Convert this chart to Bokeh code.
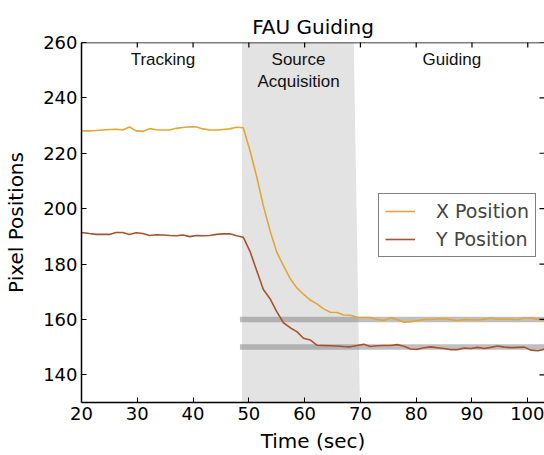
import math
from bokeh.plotting import figure
from bokeh.models import FixedTicker, Legend, LegendItem, Span
from bokeh.core.properties import value
from bokeh.embed import file_html
from bokeh.resources import INLINE

# ---- data ----
time_s = [20.0, 21.4, 22.6, 23.8, 25.0, 26.2, 27.4, 28.6, 29.8, 31.0, 32.2, 33.4, 34.6, 35.8,
          37.0, 38.2, 39.4, 40.6, 41.8, 43.0, 44.2, 45.4, 46.6, 47.8, 49.0, 50.2, 51.4, 52.6,
          53.8, 55.0, 56.2, 57.4, 58.6, 59.8, 61.0, 62.2, 63.4, 64.6, 65.8, 67.0, 68.2, 69.4,
          70.6, 71.8, 73.0, 74.2, 75.4, 76.6, 77.8, 79.0, 80.2, 81.4, 82.6, 83.8, 85.0, 86.2,
          87.4, 88.6, 89.8, 91.0, 92.2, 93.4, 94.6, 95.8, 97.0, 98.2, 99.4, 100.6, 101.8, 103.0]
x_position = [228.1, 228.1, 228.2, 228.4, 228.6, 228.7, 228.4, 229.5, 228.1, 227.9, 228.9, 228.5,
              228.4, 228.4, 229.0, 229.3, 229.6, 229.5, 228.8, 228.4, 228.4, 228.6, 228.8, 229.4,
              229.2, 221.0, 211.6, 201.0, 192.0, 184.3, 179.4, 174.8, 171.4, 169.1, 167.0, 165.6,
              163.8, 162.6, 162.5, 161.6, 161.5, 160.8, 160.7, 160.7, 160.0, 159.6, 160.6, 160.0,
              159.0, 159.2, 159.5, 160.0, 160.0, 160.2, 160.3, 160.0, 159.5, 160.0, 159.9, 159.8,
              160.1, 160.4, 160.1, 160.1, 160.1, 159.9, 160.5, 160.5, 160.1, 159.7]
y_position = [191.4, 191.0, 190.7, 190.7, 190.7, 191.4, 191.4, 190.7, 191.3, 191.0, 190.3, 190.6,
              190.5, 190.3, 190.2, 190.5, 189.9, 190.3, 190.2, 190.3, 190.7, 190.9, 190.9, 190.2,
              189.7, 184.6, 177.7, 170.8, 167.5, 162.8, 158.8, 157.0, 155.6, 153.2, 152.6, 150.7,
              150.6, 150.5, 150.4, 150.2, 150.1, 150.6, 151.0, 150.2, 150.5, 150.6, 150.6, 150.9,
              150.3, 149.3, 149.2, 149.8, 150.1, 149.8, 149.5, 149.1, 149.1, 149.7, 149.5, 149.9,
              149.5, 149.9, 150.4, 150.0, 149.8, 149.9, 150.0, 148.9, 148.7, 149.2]

acq_region_x = [48.75, 48.75, 68.8, 69.9]
acq_region_y = [130, 260, 260, 130]

target_levels = [160, 150]
target_start = [48.4, 48.4]
target_end = [104.0, 104.0]

phase_labels = ["Tracking", "Source", "Acquisition", "Guiding"]
phase_x = [34.6, 58.9, 58.9, 86.4]
phase_y = [253.8, 253.8, 246.0, 253.8]

x_ticks = [20, 30, 40, 50, 60, 70, 80, 90, 100]
y_ticks = [140, 160, 180, 200, 220, 240, 260]
x_lim = (20, 103.0)
y_lim = (130, 260)

X_COLOR = "#E3A636"
Y_COLOR = "#A8532F"
TICK_FONT = "DejaVu Sans"

p = figure(width=544, height=455, x_range=x_lim, y_range=y_lim,
           output_backend="svg", toolbar_location=None,
           min_border_left=81, min_border_right=0, min_border_top=42, min_border_bottom=53,
           title="FAU Guiding")
p.title.align = "center"
p.title.text_font = TICK_FONT
p.title.text_font_size = "20px"
p.title.text_font_style = "normal"
p.title.text_color = "black"
p.title.standoff = 7
p.grid.visible = False
p.outline_line_color = None

# shaded acquisition region
p.patch(acq_region_x, acq_region_y, fill_color="#E3E3E3", line_color=None)

# target bands
p.segment(x0=target_start, y0=target_levels, x1=target_end, y1=target_levels,
          line_color="#808080", line_alpha=0.5, line_width=5.5)

lx = p.line(time_s, x_position, line_color=X_COLOR, line_width=1.6)
ly = p.line(time_s, y_position, line_color=Y_COLOR, line_width=1.6)

p.text(x=phase_x, y=phase_y, text=phase_labels, text_align="center",
       text_baseline="alphabetic", text_font=value("Liberation Sans"),
       text_font_size="17px", text_color="#111111")

# inward ticks on the top and right edges (clipped to the frame)
p.scatter(x=x_ticks, y=[y_lim[1]] * len(x_ticks), marker="dash", angle=math.pi / 2,
          size=10, line_color="black", line_width=1.2)
p.scatter(x=[x_lim[1]] * len(y_ticks), y=y_ticks, marker="dash",
          size=10, line_color="black", line_width=1.2)
p.add_layout(Span(location=y_lim[1], dimension="width", line_color="black", line_width=1.5))

# axes
for ax in (p.xaxis[0], p.yaxis[0]):
    ax.axis_line_color = "black"
    ax.axis_line_width = 1.5
    ax.major_tick_in = 5
    ax.major_tick_out = 0
    ax.minor_tick_line_color = None
    ax.major_label_text_font = TICK_FONT
    ax.major_label_text_font_size = "18px"
    ax.major_label_text_color = "black"
    ax.axis_label_text_font = TICK_FONT
    ax.axis_label_text_font_size = "20px"
    ax.axis_label_text_font_style = "normal"
    ax.axis_label_text_color = "black"

p.xaxis[0].ticker = FixedTicker(ticks=x_ticks)
p.yaxis[0].ticker = FixedTicker(ticks=y_ticks)
p.xaxis[0].axis_label = "Time (sec)"
p.yaxis[0].axis_label = "Pixel Positions"
p.xaxis[0].major_label_standoff = 4
p.xaxis[0].axis_label_standoff = 6
p.yaxis[0].major_label_standoff = 4
p.yaxis[0].axis_label_standoff = 12

legend = Legend(items=[LegendItem(label="X Position", renderers=[lx]),
                       LegendItem(label="Y Position", renderers=[ly])],
                location=(297, 145), border_line_color="black", border_line_width=1,
                background_fill_color="white", background_fill_alpha=1.0,
                label_text_font=TICK_FONT, label_text_font_size="19px",
                glyph_width=30, glyph_height=22, label_height=22, spacing=6,
                padding=6, margin=0, label_standoff=21)
p.add_layout(legend, "center")

open("out.html", "w").write(file_html(p, INLINE))
